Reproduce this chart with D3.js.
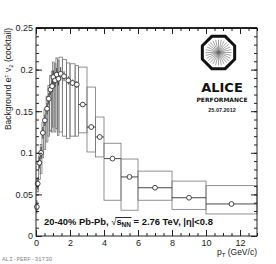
<!DOCTYPE html>
<html>
<head>
<meta charset="utf-8">
<script src="https://cdn.jsdelivr.net/npm/d3@7"></script>
<style>
  body { margin: 0; background: #fff; }
  svg { display: block; font-family: "Liberation Sans", Arial, sans-serif; }
</style>
</head>
<body>
<svg id="chart" width="276" height="264"></svg>
<script>
// cocktail v2 of background electrons
const ptCenter = [0.05, 0.1, 0.2, 0.3, 0.4, 0.52, 0.65, 0.75, 0.85, 0.95, 1.02, 1.12, 1.22, 1.32, 1.45, 1.65, 1.9, 2.15, 2.4, 2.75, 3.25, 3.75, 4.5, 5.5, 7, 9, 11.5];
const ptLow    = [0.0, 0.05, 0.15, 0.25, 0.35, 0.47, 0.6, 0.7, 0.8, 0.9, 0.97, 1.07, 1.17, 1.27, 1.35, 1.55, 1.8, 2.0, 2.3, 2.5, 3.0, 3.5, 4.0, 5.0, 6.0, 8.0, 10.0];
const ptHigh   = [0.1, 0.15, 0.25, 0.35, 0.45, 0.57, 0.7, 0.8, 0.9, 1.0, 1.07, 1.17, 1.27, 1.35, 1.55, 1.8, 2.0, 2.3, 2.5, 3.0, 3.5, 4.0, 5.0, 6.0, 8.0, 10.0, 13.0];
const v2Value  = [0.035, 0.063, 0.088, 0.100, 0.124, 0.139, 0.153, 0.165, 0.176, 0.180, 0.191, 0.187, 0.194, 0.189, 0.195, 0.192, 0.187, 0.184, 0.182, 0.158, 0.131, 0.119, 0.093, 0.071, 0.058, 0.046, 0.0385];
const statErr  = [0.008, 0.007, 0.007, 0.007, 0.007, 0.007, 0.007, 0.007, 0.007, 0.007, 0.008, 0.008, 0.008, 0.008, 0.008, 0.006, 0.005, 0.004, 0.004, 0.003, 0.003, 0.003, 0.002, 0.002, 0.002, 0.002, 0.002];
const sysUp    = [0.003, 0.006, 0.008, 0.010, 0.012, 0.013, 0.015, 0.016, 0.017, 0.018, 0.018, 0.020, 0.020, 0.022, 0.020, 0.020, 0.021, 0.023, 0.023, 0.045, 0.048, 0.024, 0.0185, 0.0215, 0.020, 0.020, 0.022];
const sysDown  = [0.003, 0.010, 0.020, 0.025, 0.030, 0.035, 0.040, 0.045, 0.050, 0.055, 0.060, 0.062, 0.065, 0.068, 0.070, 0.072, 0.070, 0.064, 0.062, 0.034, 0.030, 0.024, 0.050, 0.040, 0.015, 0.014, 0.012];

const xTicks = [0, 2, 4, 6, 8, 10, 12];
const yTicks = [0, 0.05, 0.1, 0.15, 0.2, 0.25];

const points = ptCenter.map((p, i) => ({
    pt: p, lo: ptLow[i], hi: ptHigh[i], v: v2Value[i],
    stat: statErr[i], up: sysUp[i], down: sysDown[i]
}));

const svg = d3.select("#chart");
const fLeft = 36, fRight = 257, fTop = 28, fBottom = 236;

const x = d3.scaleLinear().domain([0, 13]).range([fLeft, fRight]);
const y = d3.scaleLinear().domain([0, 0.25]).range([fBottom, fTop]);

const plot = svg.append("g");

// systematic boxes
plot.selectAll(".sys")
    .data(points)
    .enter().append("rect")
    .attr("class", "sys")
    .attr("x", d => x(d.lo))
    .attr("width", d => x(d.hi) - x(d.lo))
    .attr("y", d => y(d.v + d.up))
    .attr("height", d => y(d.v - d.down) - y(d.v + d.up))
    .attr("fill", "none")
    .attr("stroke", "#777")
    .attr("stroke-width", 0.8);

// horizontal bin bars
plot.selectAll(".hbar")
    .data(points)
    .enter().append("line")
    .attr("x1", d => x(d.lo))
    .attr("x2", d => x(d.hi))
    .attr("y1", d => y(d.v))
    .attr("y2", d => y(d.v))
    .attr("stroke", "#333")
    .attr("stroke-width", 0.9);

// stat errors
plot.selectAll(".vbar")
    .data(points)
    .enter().append("line")
    .attr("x1", d => x(d.pt))
    .attr("x2", d => x(d.pt))
    .attr("y1", d => y(d.v - d.stat))
    .attr("y2", d => y(d.v + d.stat))
    .attr("stroke", "#333")
    .attr("stroke-width", 0.9);

plot.selectAll(".marker")
    .data(points)
    .enter().append("circle")
    .attr("cx", d => x(d.pt))
    .attr("cy", d => y(d.v))
    .attr("r", 2.4)
    .attr("fill", "#fff")
    .attr("stroke", "#333")
    .attr("stroke-width", 0.9);

// axes, ROOT style: ticks inside the frame on all four sides
function styleAxis(g) {
    g.select(".domain").remove();
    g.selectAll("line").attr("stroke", "#222");
    g.selectAll("text").attr("font-size", 9).attr("fill", "#222")
        .attr("font-family", "Liberation Sans, Arial, sans-serif");
}

const xMinor = d3.range(0, 13.01, 0.5);
const yMinor = d3.range(0, 0.2501, 0.01);

svg.append("g").attr("transform", `translate(0,${fBottom})`)
    .call(d3.axisBottom(x).tickValues(xTicks).tickSize(-6).tickPadding(4).tickFormat(d3.format("d")))
    .call(styleAxis);
svg.append("g").attr("transform", `translate(0,${fBottom})`)
    .call(d3.axisBottom(x).tickValues(xMinor).tickSize(-3).tickFormat(""))
    .call(styleAxis);
svg.append("g").attr("transform", `translate(0,${fTop})`)
    .call(d3.axisTop(x).tickValues(xTicks).tickSize(-6).tickFormat(""))
    .call(styleAxis);
svg.append("g").attr("transform", `translate(0,${fTop})`)
    .call(d3.axisTop(x).tickValues(xMinor).tickSize(-3).tickFormat(""))
    .call(styleAxis);

svg.append("g").attr("transform", `translate(${fLeft},0)`)
    .call(d3.axisLeft(y).tickValues(yTicks).tickSize(-6).tickPadding(3).tickFormat(d => d === 0 ? "0" : d3.format("~g")(d)))
    .call(styleAxis);
svg.append("g").attr("transform", `translate(${fLeft},0)`)
    .call(d3.axisLeft(y).tickValues(yMinor).tickSize(-3).tickFormat(""))
    .call(styleAxis);
svg.append("g").attr("transform", `translate(${fRight},0)`)
    .call(d3.axisRight(y).tickValues(yTicks).tickSize(-6).tickFormat(""))
    .call(styleAxis);
svg.append("g").attr("transform", `translate(${fRight},0)`)
    .call(d3.axisRight(y).tickValues(yMinor).tickSize(-3).tickFormat(""))
    .call(styleAxis);

svg.append("rect")
    .attr("x", fLeft).attr("y", fTop)
    .attr("width", fRight - fLeft).attr("height", fBottom - fTop)
    .attr("fill", "none").attr("stroke", "#222").attr("stroke-width", 1);
svg.append("line")
    .attr("x1", fLeft).attr("x2", fRight).attr("y1", fTop).attr("y2", fTop)
    .attr("stroke", "#000").attr("stroke-width", 1.6);

// axis titles
const yTitle = svg.append("text")
    .attr("transform", `translate(11,${fTop}) rotate(-90)`)
    .attr("text-anchor", "end")
    .attr("font-size", 8.5)
    .attr("fill", "#222");
yTitle.append("tspan").text("Background e");
yTitle.append("tspan").attr("dy", -3).attr("font-size", 6).text("±");
yTitle.append("tspan").attr("dy", 3).text(" v");
yTitle.append("tspan").attr("dy", 2).attr("font-size", 6).text("2");
yTitle.append("tspan").attr("dy", -2).text(" (cocktail)");

const xTitle = svg.append("text")
    .attr("x", fRight).attr("y", 255)
    .attr("text-anchor", "end")
    .attr("font-size", 8.5)
    .attr("fill", "#222");
xTitle.append("tspan").text("p");
xTitle.append("tspan").attr("dy", 2).attr("font-size", 6).text("T");
xTitle.append("tspan").attr("dy", -2).text(" (GeV/c)");

// system label
const label = svg.append("text")
    .attr("x", 44).attr("y", 225)
    .attr("font-size", 9.4)
    .attr("font-weight", "bold")
    .attr("fill", "#111");
label.append("tspan").text("20-40% Pb-Pb, ");
label.append("tspan").attr("font-weight", "normal").text("√");
label.append("tspan").text("s");
label.append("tspan").attr("dy", 2).attr("font-size", 6.5).text("NN");
label.append("tspan").attr("dy", -2).text(" = 2.76 TeV, |η|<0.8");

const ln = label.node();
const full = ln.textContent;
const sIdx = full.indexOf("√");
const nIdx = full.indexOf("NN") + 1;
const rootStart = ln.getExtentOfChar(sIdx);
const rootEnd = ln.getEndPositionOfChar(nIdx);
svg.append("line")
    .attr("x1", rootStart.x + rootStart.width - 1).attr("x2", rootEnd.x + 0.5)
    .attr("y1", rootStart.y + 1.5).attr("y2", rootStart.y + 1.5)
    .attr("stroke", "#111").attr("stroke-width", 0.9);

// ALICE logo
const logo = svg.append("g").attr("transform", "translate(218.5,52.5)");
const octR = 17.5;
logo.append("polygon")
    .attr("points", d3.range(8).map(i => {
        const a = Math.PI / 8 + i * Math.PI / 4;
        return [octR * Math.cos(a), octR * Math.sin(a)].join(",");
    }).join(" "))
    .attr("fill", "#fff").attr("stroke", "#111").attr("stroke-width", 3);
logo.selectAll(".ray")
    .data(d3.range(28))
    .enter().append("line")
    .attr("x1", 0).attr("y1", 0)
    .attr("x2", i => 13 * Math.cos(i * 2 * Math.PI / 28))
    .attr("y2", i => 13 * Math.sin(i * 2 * Math.PI / 28))
    .attr("stroke", "#666").attr("stroke-width", 0.6);

svg.append("text").attr("x", 222).attr("y", 91.5)
    .attr("text-anchor", "middle").attr("font-size", 13).attr("font-weight", "bold")
    .attr("font-family", "DejaVu Sans, sans-serif")
    .attr("fill", "#111").text("ALICE");
svg.append("text").attr("x", 222).attr("y", 102)
    .attr("text-anchor", "middle").attr("font-size", 6).attr("font-weight", "bold")
    .attr("font-family", "DejaVu Sans, sans-serif")
    .attr("fill", "#111").text("PERFORMANCE");
svg.append("text").attr("x", 222).attr("y", 111.5)
    .attr("text-anchor", "middle").attr("font-size", 5.5).attr("font-weight", "bold")
    .attr("fill", "#222").text("25.07.2012");

svg.append("text").attr("x", 2).attr("y", 261)
    .attr("font-size", 6).attr("font-family", "Liberation Mono, monospace")
    .attr("fill", "#888").text("ALI-PERF-31730");
</script>
</body>
</html>
